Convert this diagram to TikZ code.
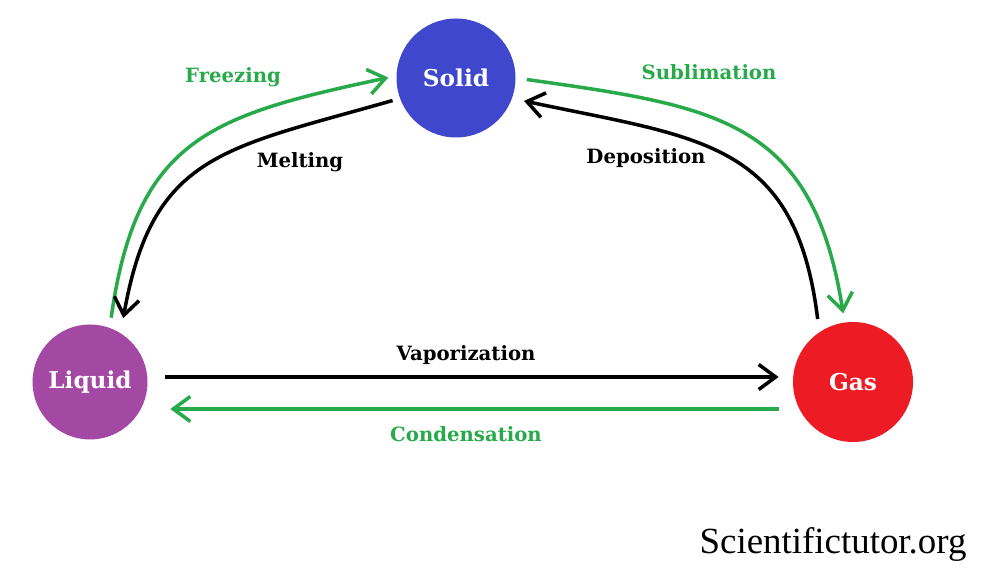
\documentclass[tikz,border=0pt]{standalone}
\usepackage{fontspec}
\setmainfont{DejaVu Serif}
\newfontfamily\wmfont{Liberation Serif}
\usepackage{xcolor}
\usetikzlibrary{arrows.meta}
\definecolor{solidblue}{RGB}{63,72,204}
\definecolor{liquidpurple}{RGB}{163,73,164}
\definecolor{gasred}{RGB}{237,28,36}
\definecolor{phasegreen}{RGB}{40,170,75}
\tikzstyle{phase}=[circle,inner sep=0pt,text=white,font=\bfseries\fontsize{13.2}{15}\selectfont]
\tikzstyle{lbl}=[font=\bfseries\fontsize{11.2}{13}\selectfont]
\tikzstyle{trans}=[line width=2pt,-{Straight Barb[length=0.34cm,width=0.5cm,line width=2pt]}]

\begin{document}
\begin{tikzpicture}
    \useasboundingbox (0,0) rectangle (19.66,11.44);
    \node[phase,fill=solidblue,minimum size=2.38cm] (solid) at (9.12,9.88) {Solid};
    \node[phase,fill=liquidpurple,minimum size=2.30cm] (liquid) at (1.80,3.80) {Liquid};
    \node[phase,fill=gasred,minimum size=2.40cm] (gas) at (17.06,3.80) {Gas};

    \draw [trans,phasegreen,shorten <=0.2cm,shorten >=0.16cm] (liquid.70) to[out=82,in=192,looseness=1.28] (solid.178);
    \draw [trans,black,shorten <=0.15cm,shorten >=0.3cm] (solid.200) to[out=196,in=80,looseness=1.28] (liquid.58);
    \draw [trans,phasegreen,shorten <=0.22cm,shorten >=0.18cm] (solid.0) to[out=-8,in=99,looseness=1.28] (gas.98);
    \draw [trans,black,shorten <=0.26cm,shorten >=0.24cm] (gas.124) to[out=97,in=-12,looseness=1.28] (solid.-20);
    \draw [trans,black,shorten <=0.35cm,shorten >=0.28cm] ([yshift=0.1cm]liquid.east) -- ([yshift=0.1cm]gas.west);
    \draw [trans,phasegreen,shorten <=0.28cm,shorten >=0.45cm] ([yshift=-0.54cm]gas.west) -- ([yshift=-0.54cm]liquid.east);

    \node[lbl,text=phasegreen] (freezing) at (4.66,9.90) {Freezing};
    \node[lbl] (melting) at (6.00,8.20) {Melting};
    \node[lbl,text=phasegreen] (sublimation) at (14.18,10.00) {Sublimation};
    \node[lbl] (deposition) at (12.92,8.28) {Deposition};
    \node[lbl] (vaporization) at (9.32,4.34) {Vaporization};
    \node[lbl,text=phasegreen] (condensation) at (9.32,2.76) {Condensation};
    \node[font=\wmfont\fontsize{21}{24}\selectfont] (site) at (16.66,0.56) {Scientifictutor.org};
\end{tikzpicture}
\end{document}
